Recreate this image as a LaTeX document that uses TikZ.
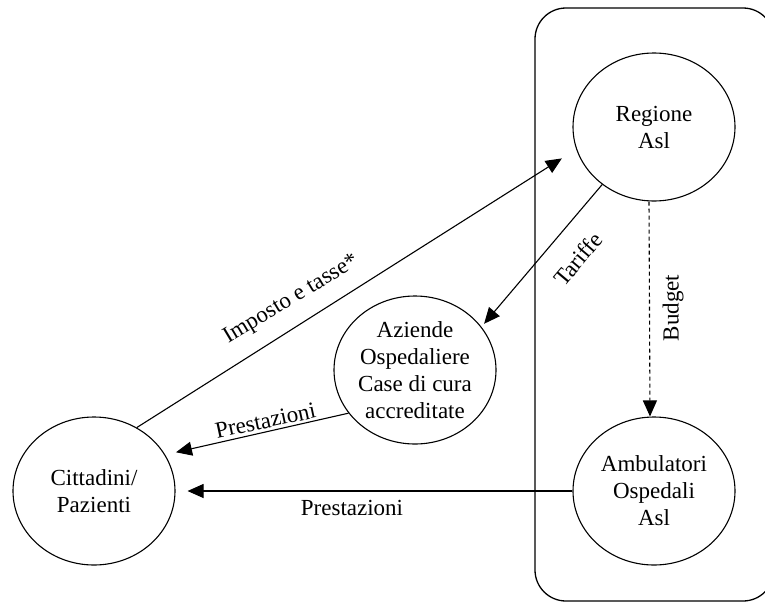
\documentclass[tikz,border=0pt]{standalone}
\usepackage{fontspec}
\setmainfont{Liberation Serif}
\usetikzlibrary{arrows.meta,shapes.geometric}

\tikzset{
  actor/.style={ellipse, draw, line width=1.1pt, minimum width=162pt, minimum height=148pt,
    inner sep=0pt, align=center, font=\fontsize{23}{27}\selectfont},
  flow/.style={line width=1.1pt, -{Triangle[length=16pt,width=14pt]}},
  lbl/.style={font=\fontsize{23}{27}\selectfont, inner sep=0pt}
}

\begin{document}
\begin{tikzpicture}[x=1pt,y=-1pt]
  \useasboundingbox (0,0) rectangle (765,603);
  \clip (0,0) rectangle (765,603);

  % frame around the regional bodies
  \draw[line width=1.3pt, rounded corners=31pt] (535,8) rectangle (774,601);

  % actors
  \node[actor] (reg) at (654,127) {Regione\\Asl};
  \node[actor] (azi) at (415,370) {Aziende\\Ospedaliere\\Case di cura\\accreditate};
  \node[actor] (cit) at (94,491)  {Cittadini/\\Pazienti};
  \node[actor] (amb) at (654,491) {Ambulatori\\Ospedali\\Asl};

  % flows
  \draw[flow, shorten >=17pt] (cit.56) -- (reg.196);
  \draw[flow, shorten >=4pt] (reg.228) -- (azi.33);
  \draw[flow, dashed, dash pattern=on 4pt off 3pt] ([xshift=-5pt]reg.south) -- ([xshift=-4pt]amb.north);
  \draw[flow, shorten >=11pt] (azi.213) -- (cit.27.6);
  \draw[flow, shorten >=12pt] (amb.west) -- (cit.east);

  % flow labels
  \node[lbl, anchor=base, rotate=31] (ltax) at (294,304) {Imposto e tasse*};
  \node[lbl, rotate=50] (ltar) at (578,259) {Tariffe};
  \node[lbl, rotate=90] (lbud) at (673,308) {Budget};
  \node[lbl, anchor=base, rotate=12] (lpr1) at (267,428) {Prestazioni};
  \node[lbl, anchor=base] (lpr2) at (352,515) {Prestazioni};
\end{tikzpicture}
\end{document}
